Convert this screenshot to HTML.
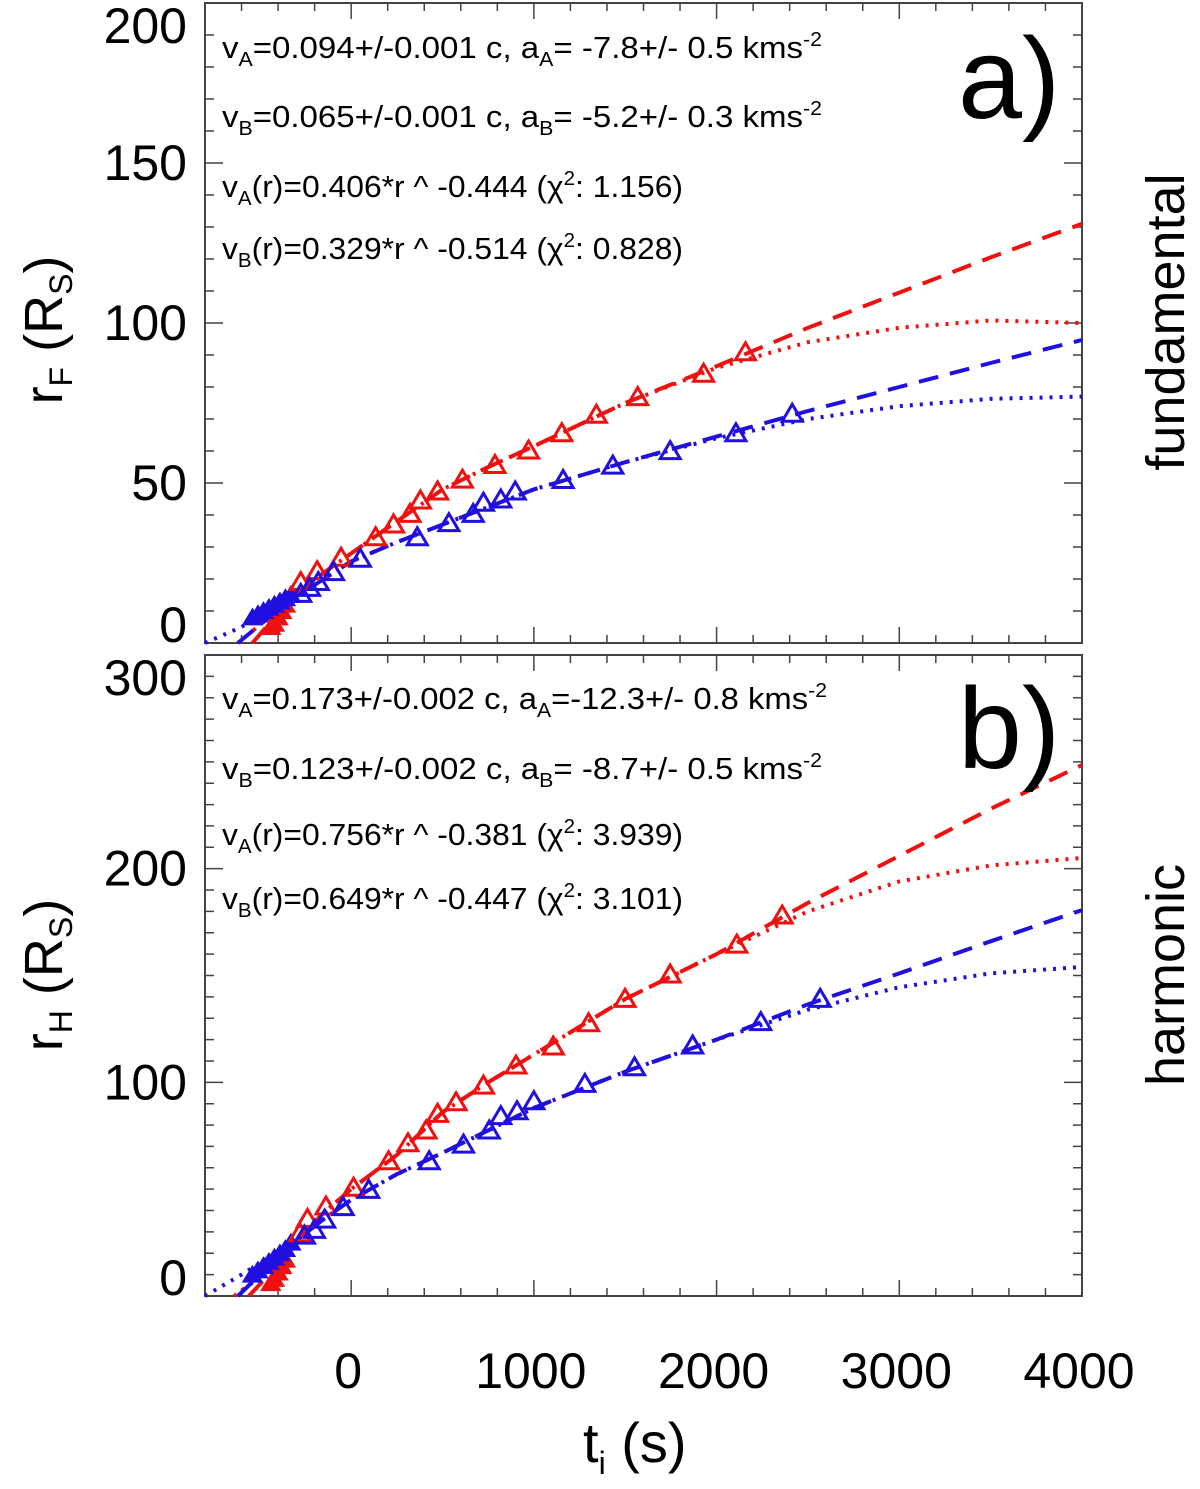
<!DOCTYPE html>
<html><head><meta charset="utf-8"><style>
html,body{margin:0;padding:0;background:#fff;}
svg{display:block;font-family:"Liberation Sans",Arial,sans-serif;}
</style></head><body>
<svg id="chart" width="1200" height="1489" viewBox="0 0 1200 1489" xmlns="http://www.w3.org/2000/svg">
<g id="axes"></g>
<g id="series"></g>
<g id="labels">
 <text x="583" y="1462" font-size="56">t<tspan font-size="32" dy="12">i</tspan><tspan dy="-12"> (s)</tspan></text>
 <text transform="translate(62,330) rotate(-90)" text-anchor="middle" font-size="54">r<tspan font-size="32" dy="10">F</tspan><tspan dy="-10"> (R</tspan><tspan font-size="32" dy="10">S</tspan><tspan dy="-10">)</tspan></text>
 <text transform="translate(62,975) rotate(-90)" text-anchor="middle" font-size="54">r<tspan font-size="32" dy="10">H</tspan><tspan dy="-10"> (R</tspan><tspan font-size="32" dy="10">S</tspan><tspan dy="-10">)</tspan></text>
 <text transform="translate(1184,322) rotate(-90)" text-anchor="middle" font-size="54">fundamental</text>
 <text transform="translate(1184,975) rotate(-90)" text-anchor="middle" font-size="54">harmonic</text>
 <text x="958" y="118" font-size="115">a)</text>
 <text x="958" y="768" font-size="115">b)</text>
</g>
</svg>
<script>
// ---- data ----
const xTicks = [0, 1000, 2000, 3000, 4000];
const yTicksA = [0, 50, 100, 150, 200];
const yTicksB = [0, 100, 200, 300];

// panel a observations
const aRedT = [2158,1929,1568,1342,1153,971,787,609,473,379,322,232,134,-55,-186,-276];
const aRedR = [91.0,84.3,77.0,71.5,65.7,60.3,55.8,51.2,47.5,44.7,40.5,37.2,33.2,26.8,22.6,19.2];
const aBlueT = [2414,2106,1746,1432,1160,898,819,724,668,535,362,50,-97,-180,-228,-276];
const aBlueR = [71.8,65.7,60.1,55.6,51.1,47.5,45.0,44.0,40.5,37.6,33.2,26.5,22.3,19.2,17.4,15.5];
const aRedFillT = [-440,-420,-400,-380,-360];
const aRedFillR = [5,6,8,10,12];
const aBlueFillT = [-540,-510,-480,-450,-420,-390,-360,-330];
const aBlueFillR = [8,9,10,11,12,13,14,15];
// panel a fits
const aRedDashT = [-540,-450,-300,-150,0,250,500,750,1000,1500,2000,2500,3000,3500,4000];
const aRedDashR = [0,6,15,22,28,38,48,55,61.5,75,86.5,98.5,109.5,120.5,131];
const aRedDotT = [-620,-450,-300,-150,0,250,500,750,1000,1500,2000,2500,3000,3500,4000];
const aRedDotR = [0,8,16,22,28,38,48,55,61.5,75,86,94,98.5,100.8,100];
const aBlueDashT = [-620,-450,-300,-150,0,250,500,1000,1500,2000,2500,3000,3500,4000];
const aBlueDashR = [0,8,14.5,20,25.5,31.5,37,48,56.5,64.5,72.5,80,87.5,94.7];
const aBlueDotT = [-800,-600,-450,-300,-150,0,250,500,1000,1500,2000,2500,3000,3500,4000];
const aBlueDotR = [0,5,10,15,20,25.5,31.5,37,48,56.5,64,70,74,76.3,77];

// panel b observations
const bRedT = [2359,2111,1746,1499,1300,1106,902,724,574,473,410,311,205,13,-138,-239,-281];
const bRedR = [178.3,164.7,150.7,139.3,127.9,117,108.1,98.7,90.9,85.5,77.7,71.7,63.3,50.9,42.1,36.3,29.6];
const bBlueT = [2567,2242,1869,1551,1279,1000,908,819,756,615,427,96,-44,-145,-201,-256];
const bBlueR = [139.3,128.4,117.5,107.3,99.5,91.4,86.7,84.4,77.7,71.1,63.3,49.9,41.8,36,31.2,28.5];
const bRedFillT = [-440,-420,-400,-380,-360];
const bRedFillR = [6,8,11,14,17];
const bBlueFillT = [-540,-510,-480,-450,-420,-390,-360,-330];
const bBlueFillR = [10,12,14,16,18,20,22,25];
// panel b fits
const bRedDashT = [-560,-450,-300,-150,0,250,500,750,1000,1500,2000,2500,3000,3500,4000];
const bRedDashR = [0,10,26,39,50,66,86,100,113,139,160,184,206,228,248.5];
const bRedDotT = [-640,-450,-300,-150,0,250,500,750,1000,1500,2000,2500,3000,3500,4000];
const bRedDotR = [0,12,26,39,50,66,86,100,113,139,160,180,194,201.5,205];
const bBlueDashT = [-620,-450,-300,-150,0,250,500,1000,1500,2000,2500,3000,3500,4000];
const bBlueDashR = [0,14,26,36,45,57,67,88,105,120,136.5,151,166,180.6];
const bBlueDotT = [-800,-600,-450,-300,-150,0,250,500,1000,1500,2000,2500,3000,3500,4000];
const bBlueDotR = [0,10,18,26,36,45,57,67,88,105,120,134,144.5,151,154];

// ---- layout ----
const NS = "http://www.w3.org/2000/svg";
const X0 = 205, X1 = 1082, TMIN = -800, TMAX = 4000;
const panels = {
  a: {top: 3, bot: 643, max: 200, major: 50},
  b: {top: 655, bot: 1296, max: 300, major: 100}
};
function xs(t){ return X0 + (t - TMIN) / (TMAX - TMIN) * (X1 - X0); }
function ys(p, v){ return p.bot - v / p.max * (p.bot - p.top); }
function mk(tag, attrs, parent){
  const e = document.createElementNS(NS, tag);
  for (const k in attrs) e.setAttribute(k, attrs[k]);
  parent.appendChild(e);
  return e;
}
const axesG = document.getElementById('axes');
const serG = document.getElementById('series');

function drawAxes(key, yTicks){
  const p = panels[key];
  const fr = mk('rect', {x: X0, y: p.top, width: X1 - X0, height: p.bot - p.top, fill: 'none', stroke: '#444', 'stroke-width': 2}, axesG);
  
  
  let d = '';
  for (let t = TMIN; t <= TMAX; t += 200){
    const x = xs(t);
    const L = (t % 1000 === 0) ? 16 : 8;
    d += `M${x},${p.bot}v${-L}M${x},${p.top}v${L}`;
  }
  for (let v = 0; v <= p.max; v += 10){
    const y = ys(p, v);
    const L = (v % p.major === 0) ? 18 : 9;
    d += `M${X0},${y}h${L}M${X1},${y}h${-L}`;
  }
  const tk = mk('path', {d: d, stroke: '#444', 'stroke-width': 1.5, fill: 'none'}, axesG);
  
  
  yTicks.forEach(v => {
    let y = ys(p, v) + 17;
    if (v === p.max) y = p.top + 40;
    if (v === 0) y = p.bot - 1;
    const tx = mk('text', {x: 187, y: y, 'text-anchor': 'end', 'font-size': 50}, axesG);
    tx.textContent = v;
    
    
  });
}
drawAxes('a', yTicksA);
drawAxes('b', yTicksB);
xTicks.forEach(t => {
  const tx = mk('text', {x: xs(t) - 3, y: 1388, 'text-anchor': 'middle', 'font-size': 50}, axesG);
  tx.textContent = t;
  
  
});

function line(key, T, R, color, dash, name){
  const p = panels[key];
  const d = T.map((t, i) => (i ? 'L' : 'M') + xs(t) + ',' + ys(p, R[i])).join('');
  const e = mk('path', {d: d, fill: 'none', stroke: color, 'stroke-width': 4, 'stroke-dasharray': dash}, serG);
  
  
}
function tris(key, T, R, color, name){
  const p = panels[key];
  T.forEach((t, i) => {
    const x = xs(t), y = ys(p, R[i]);
    const e = mk('path', {d: `M${x},${y-9}L${x+10},${y+8}L${x-10},${y+8}Z`, fill: 'none', stroke: color, 'stroke-width': 3}, serG);
    
    
  });
}
function fills(key, T, R, color, name){
  const p = panels[key];
  T.forEach((t, i) => {
    const x = xs(t), y = ys(p, R[i]);
    const e = mk('path', {d: `M${x},${y-8}L${x+9},${y+7}L${x-9},${y+7}Z`, fill: color, stroke: color, 'stroke-width': 2}, serG);
    
    
  });
}
const RED = '#f01010', BLUE = '#2010e0';
line('a', aRedDashT, aRedDashR, RED, '20 12', 'fit-a-red-dashed');
line('a', aRedDotT, aRedDotR, RED, '3 7', 'fit-a-red-dotted');
line('a', aBlueDashT, aBlueDashR, BLUE, '20 12', 'fit-a-blue-dashed');
line('a', aBlueDotT, aBlueDotR, BLUE, '3 7', 'fit-a-blue-dotted');
fills('a', aRedFillT, aRedFillR, RED, 'early-point-a-red');
fills('a', aBlueFillT, aBlueFillR, BLUE, 'early-point-a-blue');
tris('a', aRedT, aRedR, RED, 'point-a-red');
tris('a', aBlueT, aBlueR, BLUE, 'point-a-blue');
line('b', bRedDashT, bRedDashR, RED, '20 12', 'fit-b-red-dashed');
line('b', bRedDotT, bRedDotR, RED, '3 7', 'fit-b-red-dotted');
line('b', bBlueDashT, bBlueDashR, BLUE, '20 12', 'fit-b-blue-dashed');
line('b', bBlueDotT, bBlueDotR, BLUE, '3 7', 'fit-b-blue-dotted');
fills('b', bRedFillT, bRedFillR, RED, 'early-point-b-red');
fills('b', bBlueFillT, bBlueFillR, BLUE, 'early-point-b-blue');
tris('b', bRedT, bRedR, RED, 'point-b-red');
tris('b', bBlueT, bBlueR, BLUE, 'point-b-blue');
</script>
<svg style="position:absolute;left:0;top:0" width="1200" height="1489">
<g font-family="Liberation Sans, Arial, sans-serif" font-size="31" fill="#000">
 <text x="222" y="58" textLength="600" lengthAdjust="spacingAndGlyphs">v<tspan font-size="20" dy="8">A</tspan><tspan dy="-8">=0.094+/-0.001 c, a</tspan><tspan font-size="20" dy="8">A</tspan><tspan dy="-8">= -7.8+/- 0.5 kms</tspan><tspan font-size="20" dy="-12">-2</tspan></text>
 <text x="222" y="127" textLength="600" lengthAdjust="spacingAndGlyphs">v<tspan font-size="20" dy="8">B</tspan><tspan dy="-8">=0.065+/-0.001 c, a</tspan><tspan font-size="20" dy="8">B</tspan><tspan dy="-8">= -5.2+/- 0.3 kms</tspan><tspan font-size="20" dy="-12">-2</tspan></text>
 <text x="222" y="197" textLength="461" lengthAdjust="spacingAndGlyphs">v<tspan font-size="20" dy="8">A</tspan><tspan dy="-8">(r)=0.406*r ^ -0.444 (χ</tspan><tspan font-size="20" dy="-12">2</tspan><tspan dy="12">: 1.156)</tspan></text>
 <text x="222" y="259" textLength="461" lengthAdjust="spacingAndGlyphs">v<tspan font-size="20" dy="8">B</tspan><tspan dy="-8">(r)=0.329*r ^ -0.514 (χ</tspan><tspan font-size="20" dy="-12">2</tspan><tspan dy="12">: 0.828)</tspan></text>
 <text x="222" y="709" textLength="605" lengthAdjust="spacingAndGlyphs">v<tspan font-size="20" dy="8">A</tspan><tspan dy="-8">=0.173+/-0.002 c, a</tspan><tspan font-size="20" dy="8">A</tspan><tspan dy="-8">=-12.3+/- 0.8 kms</tspan><tspan font-size="20" dy="-12">-2</tspan></text>
 <text x="222" y="779" textLength="600" lengthAdjust="spacingAndGlyphs">v<tspan font-size="20" dy="8">B</tspan><tspan dy="-8">=0.123+/-0.002 c, a</tspan><tspan font-size="20" dy="8">B</tspan><tspan dy="-8">= -8.7+/- 0.5 kms</tspan><tspan font-size="20" dy="-12">-2</tspan></text>
 <text x="222" y="845" textLength="461" lengthAdjust="spacingAndGlyphs">v<tspan font-size="20" dy="8">A</tspan><tspan dy="-8">(r)=0.756*r ^ -0.381 (χ</tspan><tspan font-size="20" dy="-12">2</tspan><tspan dy="12">: 3.939)</tspan></text>
 <text x="222" y="909" textLength="461" lengthAdjust="spacingAndGlyphs">v<tspan font-size="20" dy="8">B</tspan><tspan dy="-8">(r)=0.649*r ^ -0.447 (χ</tspan><tspan font-size="20" dy="-12">2</tspan><tspan dy="12">: 3.101)</tspan></text>
</g>
</svg>
</body></html>
